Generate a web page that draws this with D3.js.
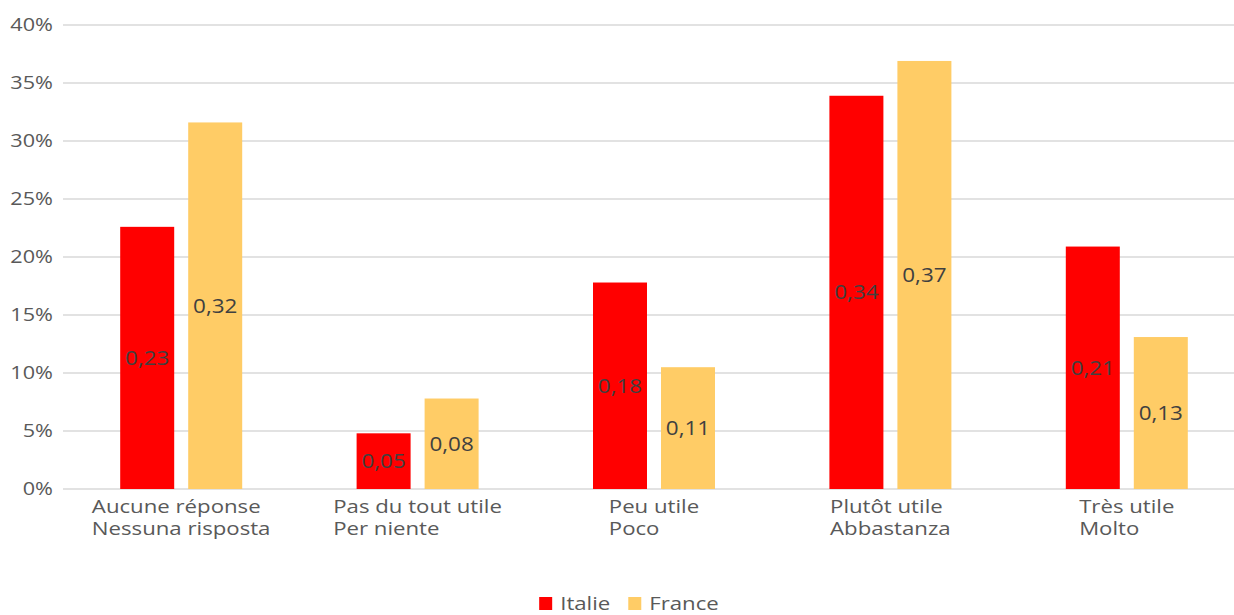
<!DOCTYPE html>
<html>
<head>
<meta charset="utf-8">
<script src="https://cdn.jsdelivr.net/npm/d3@7"></script>
<style>
  body { margin: 0; background: #fff; }
  text { font-family: "Open Sans", sans-serif; }
</style>
</head>
<body>
<svg id="chart" width="1234" height="615"></svg>
<script>
// categories (two lines : french / italian)
const categories = ["Aucune réponse", "Pas du tout utile", "Peu utile", "Plutôt utile", "Très utile"];
const categoriesIt = ["Nessuna risposta", "Per niente", "Poco", "Abbastanza", "Molto"];
const seriesNames = ["Italie", "France"];
const seriesColors = ["#FF0000", "#FFCC66"];
const italieValues = [0.226, 0.048, 0.178, 0.339, 0.209];
const franceValues = [0.316, 0.078, 0.105, 0.369, 0.131];
const italieLabels = ["0,23", "0,05", "0,18", "0,34", "0,21"];
const franceLabels = ["0,32", "0,08", "0,11", "0,37", "0,13"];
const yTicks = [0, 0.05, 0.1, 0.15, 0.2, 0.25, 0.3, 0.35, 0.4];

const svg = d3.select("#chart");
const plotLeft = 63, plotRight = 1245, plotTop = 25, plotBottom = 489;
const stretch = 1.2; // le texte de l'original est plus large

const x = d3.scaleBand().domain(categories).range([plotLeft, plotRight]);
const y = d3.scaleLinear().domain([0, 0.4]).range([plotBottom, plotTop]);
const barW = 54, gap = 14;

// grid lines
svg.append("g")
    .selectAll("line")
    .data(yTicks).enter()
    .append("line")
    .attr("x1", plotLeft).attr("x2", plotRight)
    .attr("y1", d => y(d)).attr("y2", d => y(d))
    .attr("stroke", "#D9D9D9").attr("stroke-width", 1.5);

// y axis labels
svg.append("g")
    .selectAll("text")
    .data(yTicks).enter()
    .append("text")
    .attr("transform", d => "translate(53," + y(d) + ") scale(1.17,1)")
    .attr("dy", "0.35em")
    .attr("text-anchor", "end")
    .attr("font-size", 18.5)
    .attr("fill", "#595959")
    .text(d => Math.round(d * 100) + "%");

// bars
const series = [italieValues, franceValues];
const labels = [italieLabels, franceLabels];
series.forEach(function(vals, s) {
    const offset = s == 0 ? -gap / 2 - barW : gap / 2;
    svg.append("g")
        .selectAll("rect")
        .data(vals).enter()
        .append("rect")
        .attr("x", (d, i) => x(categories[i]) + x.bandwidth() / 2 + offset)
        .attr("y", d => y(d))
        .attr("width", barW)
        .attr("height", d => plotBottom - y(d))
        .attr("fill", seriesColors[s]);

    svg.append("g")
        .selectAll("text")
        .data(vals).enter()
        .append("text")
        .attr("transform", (d, i) => "translate(" + (x(categories[i]) + x.bandwidth() / 2 + offset + barW / 2) +
            "," + ((y(d) + plotBottom) / 2) + ") scale(1.15,1)")
        .attr("dy", "0.36em")
        .attr("text-anchor", "middle")
        .attr("font-size", 19.5)
        .attr("fill", "#404040")
        .text((d, i) => labels[s][i]);
});

// category labels, block centered, lines left aligned
categories.forEach(function(c, i) {
    const g = svg.append("g");
    const t = g.append("text").attr("font-size", 18.5).attr("fill", "#595959");
    t.append("tspan").attr("x", 0).attr("y", 513).text(c);
    t.append("tspan").attr("x", 0).attr("y", 535).text(categoriesIt[i]);
    const w = t.node().getBBox().width * stretch;
    g.attr("transform", "translate(" + (x(c) + x.bandwidth() / 2 - w / 2) + ",0) scale(" + stretch + ",1)");
});

// legend
const legend = svg.append("g");
let lx = 0;
seriesNames.forEach(function(n, i) {
    legend.append("rect").attr("x", lx).attr("y", 597).attr("width", 13).attr("height", 13)
        .attr("fill", seriesColors[i]);
    const t = legend.append("text").attr("transform", "translate(" + (lx + 21) + ",610) scale(" + stretch + ",1)")
        .attr("font-size", 18.5).attr("fill", "#595959").text(n);
    lx += 21 + t.node().getComputedTextLength() * stretch + 18;
});
lx -= 18;
legend.attr("transform", "translate(" + (629 - lx / 2) + ",0)");
</script>
</body>
</html>
